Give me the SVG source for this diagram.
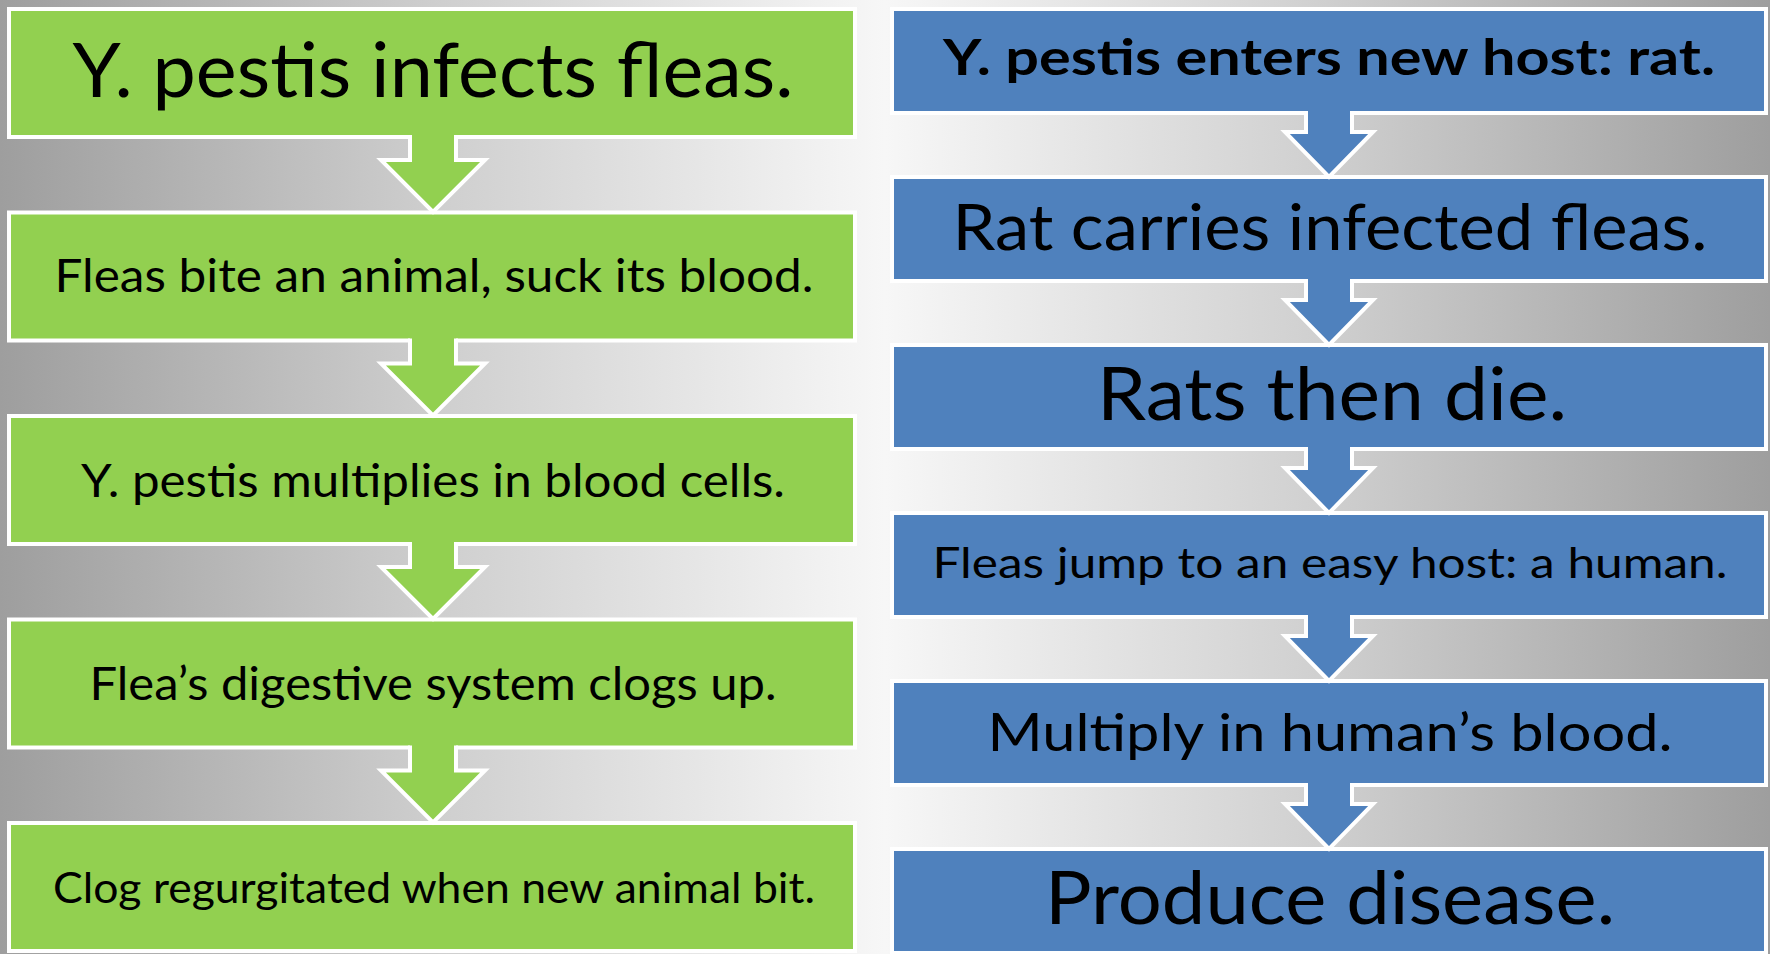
<svg xmlns="http://www.w3.org/2000/svg" width="1770" height="954" viewBox="0 0 1770 954">
<style>
.g{fill:#92d050;stroke:#ffffff;stroke-width:4}
.b{fill:#4f81bd;stroke:#ffffff;stroke-width:4}
.ga{fill:#92d050}
.ba{fill:#4f81bd}
.ol{fill:none;stroke:#ffffff;stroke-width:4;stroke-linejoin:miter}
text{font-family:Lato,"Open Sans","Liberation Sans",sans-serif;fill:#000000;text-anchor:middle}
</style>
<defs>
<linearGradient id="bg" x1="0" y1="0" x2="1770" y2="0" gradientUnits="userSpaceOnUse">
<stop offset="0" stop-color="#9e9e9e"/>
<stop offset="0.25" stop-color="#cfcfcf"/>
<stop offset="0.5" stop-color="#f7f7f7"/>
<stop offset="0.75" stop-color="#cfcfcf"/>
<stop offset="1" stop-color="#9e9e9e"/>
</linearGradient>
</defs>
<rect x="0" y="0" width="1770" height="954" fill="url(#bg)"/>

<g id="L1"><rect class="g" x="9" y="9" width="846" height="128"/><text x="433" y="97" font-size="75" textLength="721" lengthAdjust="spacingAndGlyphs">Y. pestis infects fleas.</text></g>
<g id="L2"><rect class="g" x="9" y="212.5" width="846" height="128"/><text x="434" y="292" font-size="46" textLength="759" lengthAdjust="spacingAndGlyphs">Fleas bite an animal, suck its blood.</text></g>
<g id="L3"><rect class="g" x="9" y="416" width="846" height="128"/><text x="433" y="497" font-size="46" textLength="704" lengthAdjust="spacingAndGlyphs">Y. pestis multiplies in blood cells.</text></g>
<g id="L4"><rect class="g" x="9" y="619.5" width="846" height="128"/><text x="433" y="700" font-size="46" textLength="687" lengthAdjust="spacingAndGlyphs">Flea’s digestive system clogs up.</text></g>
<g id="L5"><rect class="g" x="9" y="823" width="846" height="128"/><text x="434" y="903" font-size="43" textLength="762" lengthAdjust="spacingAndGlyphs">Clog regurgitated when new animal bit.</text></g>

<g id="R1"><rect class="b" x="892" y="9" width="874" height="104"/><text x="1329" y="75" font-size="49" font-weight="bold" textLength="772" lengthAdjust="spacingAndGlyphs">Y. pestis enters new host: rat.</text></g>
<g id="R2"><rect class="b" x="892" y="177" width="874" height="104"/><text x="1330" y="250" font-size="64" textLength="755" lengthAdjust="spacingAndGlyphs">Rat carries infected fleas.</text></g>
<g id="R3"><rect class="b" x="892" y="345" width="874" height="104"/><text x="1332" y="420" font-size="73" textLength="470" lengthAdjust="spacingAndGlyphs">Rats then die.</text></g>
<g id="R4"><rect class="b" x="892" y="513" width="874" height="104"/><text x="1330" y="578" font-size="43" textLength="795" lengthAdjust="spacingAndGlyphs">Fleas jump to an easy host: a human.</text></g>
<g id="R5"><rect class="b" x="892" y="681" width="874" height="104"/><text x="1330" y="751" font-size="53" textLength="685" lengthAdjust="spacingAndGlyphs">Multiply in human’s blood.</text></g>
<g id="R6"><rect class="b" x="892" y="849" width="874" height="104"/><text x="1330" y="924" font-size="73" textLength="570" lengthAdjust="spacingAndGlyphs">Produce disease.</text></g>

<g id="connectors">
<g id="a-L1-L2"><polygon class="ga" points="410,133 410,160 381,160 433,212 485,160 456,160 456,133"/><polyline class="ol" points="410,135 410,160 381,160 433,212 485,160 456,160 456,135"/></g>
<g id="a-L2-L3"><polygon class="ga" points="410,336.5 410,363.5 381,363.5 433,415.5 485,363.5 456,363.5 456,336.5"/><polyline class="ol" points="410,338.5 410,363.5 381,363.5 433,415.5 485,363.5 456,363.5 456,338.5"/></g>
<g id="a-L3-L4"><polygon class="ga" points="410,540 410,567 381,567 433,619 485,567 456,567 456,540"/><polyline class="ol" points="410,542 410,567 381,567 433,619 485,567 456,567 456,542"/></g>
<g id="a-L4-L5"><polygon class="ga" points="410,743.5 410,770.5 381,770.5 433,822.5 485,770.5 456,770.5 456,743.5"/><polyline class="ol" points="410,745.5 410,770.5 381,770.5 433,822.5 485,770.5 456,770.5 456,745.5"/></g>

<g id="a-R1-R2"><polygon class="ba" points="1306,109 1306,132 1285,132 1329,177 1373,132 1352,132 1352,109"/><polyline class="ol" points="1306,111 1306,132 1285,132 1329,177 1373,132 1352,132 1352,111"/></g>
<g id="a-R2-R3"><polygon class="ba" points="1306,277 1306,300 1285,300 1329,345 1373,300 1352,300 1352,277"/><polyline class="ol" points="1306,279 1306,300 1285,300 1329,345 1373,300 1352,300 1352,279"/></g>
<g id="a-R3-R4"><polygon class="ba" points="1306,445 1306,468 1285,468 1329,513 1373,468 1352,468 1352,445"/><polyline class="ol" points="1306,447 1306,468 1285,468 1329,513 1373,468 1352,468 1352,447"/></g>
<g id="a-R4-R5"><polygon class="ba" points="1306,613 1306,636 1285,636 1329,681 1373,636 1352,636 1352,613"/><polyline class="ol" points="1306,615 1306,636 1285,636 1329,681 1373,636 1352,636 1352,615"/></g>
<g id="a-R5-R6"><polygon class="ba" points="1306,781 1306,804 1285,804 1329,849 1373,804 1352,804 1352,781"/><polyline class="ol" points="1306,783 1306,804 1285,804 1329,849 1373,804 1352,804 1352,783"/></g>
</g>
</svg>
